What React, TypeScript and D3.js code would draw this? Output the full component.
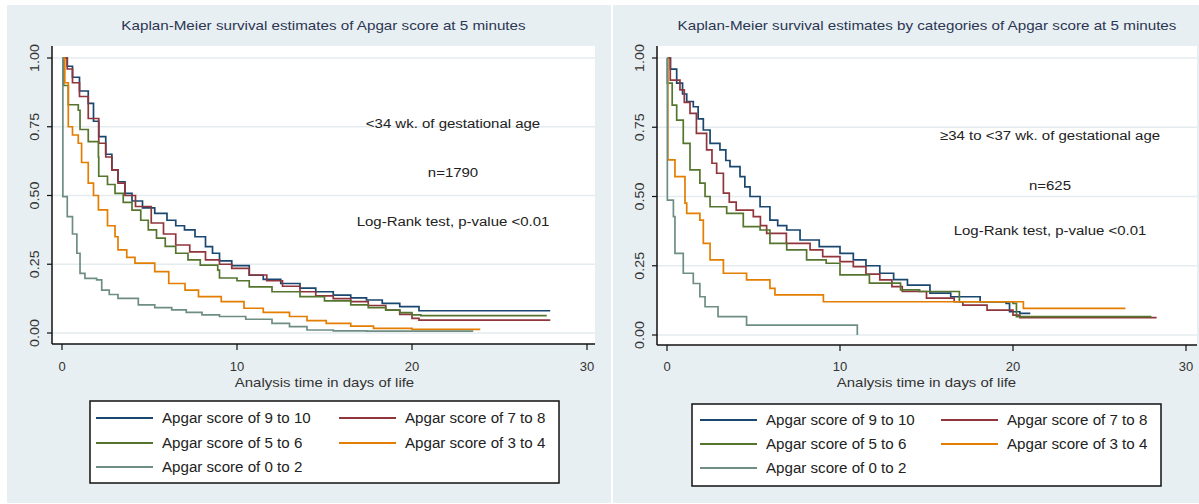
import * as d3 from 'd3'

// Kaplan-Meier step data: [day, survival] — drops happen at each listed day
const leftApgar9to10: [number, number][] = [[0,1],[0.3,0.97],[0.6,0.93],[1.0,0.88],[1.5,0.835],[1.8,0.77],[2.1,0.714],[2.5,0.65],[2.85,0.593],[3.2,0.55],[3.6,0.508],[4.0,0.48],[4.6,0.455],[5.3,0.435],[6.0,0.41],[6.5,0.39],[7.0,0.375],[7.6,0.35],[8.2,0.314],[8.6,0.29],[9.0,0.262],[9.7,0.245],[10.7,0.21],[11.5,0.195],[12.5,0.18],[13.6,0.163],[14.5,0.15],[15.5,0.138],[16.5,0.128],[17.4,0.12],[18.3,0.108],[19.3,0.096],[20.4,0.081],[27.9,0.081]]
const leftApgar7to8: [number, number][] = [[0,1],[0.3,0.96],[0.6,0.91],[1.0,0.86],[1.5,0.78],[2.1,0.69],[2.5,0.64],[2.85,0.593],[3.2,0.545],[3.6,0.5],[4.2,0.46],[5.1,0.4],[5.8,0.36],[6.5,0.32],[7.3,0.295],[8.2,0.266],[9.0,0.25],[9.7,0.235],[10.7,0.211],[11.7,0.19],[12.6,0.17],[13.6,0.15],[14.5,0.135],[15.5,0.125],[16.5,0.114],[17.5,0.1],[18.5,0.083],[19.3,0.068],[20.0,0.053],[20.4,0.047],[27.9,0.047]]
const leftApgar5to6: [number, number][] = [[0,1],[0.1,0.9],[0.36,0.83],[0.93,0.81],[1.03,0.74],[1.5,0.696],[2.08,0.64],[2.1,0.57],[2.6,0.54],[3.03,0.508],[3.5,0.475],[4.0,0.447],[4.5,0.41],[4.93,0.375],[5.4,0.345],[5.9,0.315],[6.5,0.29],[7.2,0.266],[7.9,0.247],[8.9,0.229],[9.0,0.2],[10.0,0.19],[10.7,0.168],[12.0,0.15],[13.6,0.132],[15.0,0.117],[16.5,0.102],[17.5,0.092],[18.5,0.083],[19.3,0.074],[20.0,0.066],[20.5,0.063],[27.7,0.063]]
const leftApgar3to4: [number, number][] = [[0,1],[0.16,0.91],[0.36,0.75],[0.6,0.72],[0.93,0.69],[1.12,0.62],[1.5,0.545],[1.8,0.5],[2.08,0.448],[2.6,0.39],[3.03,0.35],[3.2,0.302],[3.7,0.275],[4.17,0.254],[5.3,0.223],[6.1,0.18],[7.03,0.156],[7.8,0.132],[9.1,0.114],[10.4,0.09],[11.5,0.075],[13.0,0.06],[14.0,0.045],[15.1,0.035],[16.5,0.025],[17.8,0.017],[20.0,0.013],[23.9,0.013]]
const leftApgar0to2: [number, number][] = [[0,1],[0.05,0.496],[0.3,0.423],[0.6,0.36],[0.85,0.29],[1.03,0.217],[1.31,0.199],[1.98,0.193],[2.27,0.156],[2.7,0.14],[3.2,0.126],[4.36,0.102],[5.3,0.092],[6.27,0.084],[7.1,0.075],[8.0,0.066],[9.0,0.06],[10.5,0.05],[12.0,0.035],[13.0,0.023],[14.0,0.011],[15.5,0.008],[17.4,0.007],[23.5,0.007]]

const rightApgar9to10: [number, number][] = [[0,1],[0.2,0.96],[0.56,0.909],[0.9,0.87],[1.14,0.843],[1.52,0.824],[1.8,0.78],[2.1,0.74],[2.49,0.692],[3.06,0.668],[3.4,0.63],[3.64,0.608],[4.22,0.572],[4.5,0.535],[4.8,0.5],[5.38,0.463],[5.95,0.415],[6.4,0.395],[6.92,0.379],[7.69,0.343],[8.8,0.319],[10.0,0.295],[10.77,0.271],[11.5,0.25],[12.3,0.223],[13.1,0.2],[13.9,0.18],[15.2,0.151],[16.4,0.138],[18.1,0.12],[19.6,0.114],[19.8,0.084],[20.4,0.078],[21.0,0.078]]
const rightApgar7to8: [number, number][] = [[0,1],[0.19,0.92],[0.75,0.885],[1.0,0.84],[1.33,0.8],[1.7,0.728],[2.29,0.668],[2.6,0.62],[2.87,0.584],[3.26,0.512],[3.6,0.48],[4.0,0.451],[4.99,0.427],[5.4,0.395],[5.76,0.367],[6.9,0.331],[8.27,0.307],[9.0,0.283],[10.0,0.265],[10.77,0.247],[11.5,0.22],[12.3,0.199],[13.0,0.175],[13.6,0.157],[15.0,0.133],[16.6,0.12],[17.1,0.108],[18.5,0.09],[20.0,0.072],[20.4,0.063],[28.3,0.063]]
const rightApgar5to6: [number, number][] = [[0,1],[0.02,0.909],[0.3,0.83],[0.56,0.776],[0.94,0.692],[1.33,0.596],[1.9,0.548],[2.2,0.5],[2.49,0.463],[3.45,0.439],[4.41,0.391],[5.38,0.379],[5.95,0.331],[6.92,0.307],[8.07,0.271],[9.2,0.259],[10.0,0.217],[11.7,0.187],[13.5,0.163],[14.6,0.157],[16.9,0.12],[20.0,0.114],[20.2,0.066],[28.0,0.066]]
const rightApgar3to4: [number, number][] = [[0,1],[0.05,0.632],[0.46,0.572],[1.04,0.476],[1.14,0.439],[1.9,0.415],[2.1,0.331],[2.49,0.271],[3.26,0.223],[4.6,0.199],[5.95,0.168],[6.24,0.145],[9.04,0.12],[20.6,0.096],[26.5,0.096]]
const rightApgar0to2: [number, number][] = [[0,1],[0.02,0.487],[0.37,0.427],[0.46,0.295],[0.94,0.223],[1.52,0.186],[1.9,0.138],[2.2,0.102],[2.95,0.066],[4.6,0.036],[11.0,0.0]]

const groupLabels = ['Apgar score of 9 to 10', 'Apgar score of 7 to 8', 'Apgar score of 5 to 6', 'Apgar score of 3 to 4', 'Apgar score of 0 to 2']
const groupColors = ['#1a476f', '#90353b', '#55752f', '#e37e00', '#6e8e84']
const xTicks = [0, 10, 20, 30]
const yTicks = [0, 0.25, 0.5, 0.75, 1]

const FONT = '"Liberation Sans", Arial, sans-serif'
const BG = '#e8eff2'
const GRID = '#e4ecef'

// text drawn a bit wider than the font, like the Stata export
function Txt({ x, y, size, stretch = 1.12, anchor = 'middle', fill = '#333', rotate = 0, children }: any) {
  return (
    <text
      transform={`translate(${x},${y}) rotate(${rotate}) scale(${stretch},1)`}
      textAnchor={anchor}
      dominantBaseline="central"
      fontSize={size}
      fill={fill}
    >{children}</text>
  )
}

type PanelProps = {
  bgX: [number, number]
  plotX: [number, number]
  plotTop: number
  axisY: number
  xRange: [number, number]
  yRange: [number, number]
  title: string
  notes: string[]
  notesX: number
  notesY: number[]
  legendBox: [number, number, number, number]
  legendRows: number[]
  legendCols: number[]
  series: [number, number][][]
}

function Panel(p: PanelProps) {
  const x = d3.scaleLinear().domain([0, 30]).range(p.xRange)
  const y = d3.scaleLinear().domain([0, 1]).range(p.yRange)
  const line = d3.line<[number, number]>()
    .x(d => x(d[0]))
    .y(d => y(d[1]))
    .curve(d3.curveStepAfter)

  const [plotL, plotR] = p.plotX
  const titleX = (plotL + plotR) / 2
  const [lx0, ly0, lx1, ly1] = p.legendBox

  return (
    <g fontFamily={FONT}>
      <rect x={p.bgX[0]} y={5} width={p.bgX[1] - p.bgX[0]} height={498} fill={BG} />
      <rect x={plotL} y={p.plotTop} width={plotR - plotL} height={p.axisY - p.plotTop} fill="#fff" />
      {yTicks.map(t => (
        <line key={t} x1={plotL} x2={plotR} y1={y(t)} y2={y(t)} stroke={GRID} strokeWidth={1.5} />
      ))}
      <Txt x={titleX} y={25} size={13} stretch={1.17} fill="#2b3652">{p.title}</Txt>

      {p.series.map((s, i) => (
        <path key={i} d={line(s) || ''} fill="none" stroke={groupColors[i]} strokeWidth={1.7} />
      ))}

      {/* axes */}
      <line x1={plotL} x2={plotL} y1={p.plotTop} y2={p.axisY} stroke="#111" strokeWidth={1.5} />
      <line x1={plotL} x2={plotR} y1={p.axisY} y2={p.axisY} stroke="#111" strokeWidth={1.5} />
      {yTicks.map(t => (
        <g key={t}>
          <line x1={plotL - 5} x2={plotL} y1={y(t)} y2={y(t)} stroke="#111" strokeWidth={1.2} />
          <Txt x={plotL - 17} y={y(t)} size={13} stretch={1.1} rotate={-90}>{d3.format('.2f')(t)}</Txt>
        </g>
      ))}
      {xTicks.map(t => (
        <g key={t}>
          <line x1={x(t)} x2={x(t)} y1={p.axisY} y2={p.axisY + 6} stroke="#111" strokeWidth={1.2} />
          <Txt x={x(t)} y={366} size={13} stretch={1.0}>{t}</Txt>
        </g>
      ))}
      <Txt x={(x(0) + x(30)) / 2} y={382} size={13} stretch={1.15}>Analysis time in days of life</Txt>

      {p.notes.map((n, i) => (
        <Txt key={i} x={p.notesX} y={p.notesY[i]} size={13.5} stretch={1.11} fill="#222">{n}</Txt>
      ))}

      {/* legend */}
      <rect x={lx0} y={ly0} width={lx1 - lx0} height={ly1 - ly0} fill="#fff" stroke="#111" strokeWidth={1.5} />
      {groupLabels.map((lab, i) => {
        const cx = p.legendCols[i % 2]
        const cy = p.legendRows[Math.floor(i / 2)]
        return (
          <g key={lab}>
            <line x1={cx} x2={cx + 57} y1={cy} y2={cy} stroke={groupColors[i]} strokeWidth={2} />
            <Txt x={cx + 66} y={cy} size={14} stretch={1.08} anchor="start" fill="#222">{lab}</Txt>
          </g>
        )
      })}
    </g>
  )
}

export default function App() {
  return (
    <svg width={1199} height={504} style={{ position: 'absolute', left: 0, top: 0, background: '#fff' }}>
      <Panel
        bgX={[7, 611]}
        plotX={[52, 595]}
        plotTop={46}
        axisY={344}
        xRange={[62, 587]}
        yRange={[333, 58]}
        title="Kaplan-Meier survival estimates of Apgar score at 5 minutes"
        notes={['<34 wk. of gestational age', 'n=1790', 'Log-Rank test, p-value <0.01']}
        notesX={453}
        notesY={[123, 172, 221]}
        legendBox={[90, 401, 559, 483]}
        legendRows={[418, 443, 467]}
        legendCols={[96, 339]}
        series={[leftApgar9to10, leftApgar7to8, leftApgar5to6, leftApgar3to4, leftApgar0to2]}
      />
      <Panel
        bgX={[613, 1199]}
        plotX={[657, 1197]}
        plotTop={46}
        axisY={345}
        xRange={[667, 1186]}
        yRange={[335, 58]}
        title="Kaplan-Meier survival estimates by categories of Apgar score at 5 minutes"
        notes={['≥34 to <37 wk. of gestational age', 'n=625', 'Log-Rank test, p-value <0.01']}
        notesX={1050}
        notesY={[135, 185, 230]}
        legendBox={[692, 404, 1161, 486]}
        legendRows={[420, 444, 468]}
        legendCols={[700, 941]}
        series={[rightApgar9to10, rightApgar7to8, rightApgar5to6, rightApgar3to4, rightApgar0to2]}
      />
    </svg>
  )
}
